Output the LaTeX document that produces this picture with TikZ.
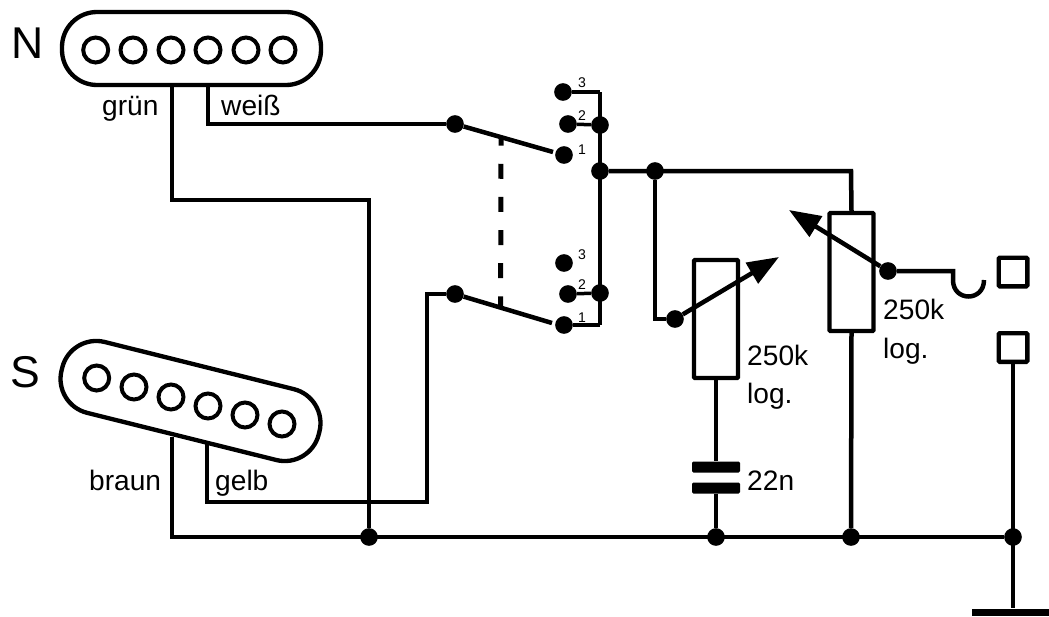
\documentclass[tikz,border=0pt]{standalone}
\usepackage{fontspec}
\setmainfont{Liberation Sans}
\usetikzlibrary{arrows.meta, calc}
\tikzset{wire/.style={line width=1.35mm, line join=miter},
  thinwire/.style={line width=1.05mm},
  junct/.style={circle, fill=black, inner sep=0, minimum size=5.3mm},
  pickup/.style={draw, line width=1.3mm, inner sep=0, minimum width=77.7mm, minimum height=21.9mm, rounded corners=10.5mm},
  pole/.style={draw, circle, line width=1.2mm, inner sep=0, minimum size=7.5mm},
  pot/.style={draw, line width=1.3mm, inner sep=0, minimum width=13.2mm, minimum height=35.4mm, rounded corners=.3mm},
  jack/.style={draw, line width=1.3mm, inner sep=0, minimum size=8.6mm, rounded corners=.3mm},
  plate/.style={fill=black, inner sep=0, minimum width=14.4mm, minimum height=3.3mm, rounded corners=.4mm},
  wiper/.style={wire, -{Triangle[length=27pt,width=20pt]}},
  lab/.style={anchor=base west, inner sep=0, font=\fontsize{24}{28}\selectfont},
  big/.style={anchor=base west, inner sep=0, font=\fontsize{38}{44}\selectfont},
  num/.style={anchor=base west, inner sep=0, font=\fontsize{12}{14}\selectfont}}

\begin{document}
\begin{tikzpicture}[x=.3mm,y=-.3mm]
\useasboundingbox (0,0) rectangle (1049,617);
% pickups
\node[pickup] (pickN) at (191.5,48.5) {};
\node[pickup,rotate=-14,minimum width=79.5mm] (pickS) at (190.5,401) {};
\foreach \i/\x in {1/95.7,2/133,3/171,4/208,5/246,6/283} \node[pole] (poleN\i) at (\x,50) {};
\foreach \i/\x/\y in {1/96.7/378,2/134/387,3/171/397,4/208/406,5/245/415,6/282/424} \node[pole] (poleS\i) at (\x,\y) {};
% switch
\node[junct] (swA) at (455,124) {};
\node[junct] (swB) at (455,294) {};
\node[junct] (a3) at (563,92) {};
\node[junct] (a2) at (568,124) {};
\node[junct] (a1) at (564,155) {};
\node[junct] (b3) at (564,263) {};
\node[junct] (b2) at (568,294) {};
\node[junct] (b1) at (564,325) {};
\node[junct] (busA) at (600,125) {};
\node[junct] (busM) at (600,171) {};
\node[junct] (busB) at (600,293) {};
\node[junct] (tone) at (655,171) {};
\coordinate (bladeA) at (553,152);
\coordinate (bladeB) at (552,323);
\coordinate (busTop) at (600,92);
\coordinate (busEnd) at (600,325);
% pots, cap, jack
\node[pot] (potT) at (716,319) {};
\node[pot] (potV) at (851.5,272) {};
\node[junct] (wipT) at (675,319) {};
\node[junct] (wipV) at (888,271) {};
\coordinate (tipT) at (779,257);
\coordinate (tipV) at (789,210);
\node[plate] (capA) at (716,467) {};
\node[plate] (capB) at (716,488) {};
\node[jack] (jackA) at (1013,272) {};
\node[jack] (jackB) at (1013,347.5) {};
\node[junct] (gndA) at (369,537) {};
\node[junct] (gndT) at (716,537) {};
\node[junct] (gndV) at (851,537) {};
\node[junct] (gndJ) at (1013,537) {};
\node[fill=black, inner sep=0, minimum width=23.1mm, minimum height=2.1mm] (gnd) at (1010.5,612) {};
\coordinate (brownTop) at (172,437);
\coordinate (yellowTop) at (207,444);
% wires
\draw[wire] (172,87)--(172,200)--(369,200)--(gndA);
\draw[wire] (208,87)--(208,124)--(swA);
\draw[wire] (swA)--(bladeA);
\draw[wire] (swB)--(bladeB);
\draw[wire] (brownTop)--(172,537)--(gndJ);
\draw[wire] (yellowTop)--(207,502)--(427,502)--(427,294)--(swB);
\draw[wire] (busTop)--(busEnd);
\draw[thinwire] (a3)--(busTop) (busEnd)--(b1);
\draw[thinwire] (a2)--(busA) (b2)--(busB);
\draw[wire] (busM)--(851,171)--(potV.north);
\draw[wire] (tone)--(655,319)--(wipT);
\draw[wire] (potT.south)--(capA) (capB)--(gndT);
\draw[wire] (potV.south)--(gndV);
\draw[wire] (jackB.south)--(gnd.north -| jackB.south);
\draw[wire] (wipV)--(953,271)--(953,280) .. controls (953,302) and (984,302) .. (984,280);
\draw[wiper] (wipT)--(tipT);
\draw[wiper] (wipV)--(tipV);
\draw[line width=1.5mm, dash pattern=on 12.8pt off 15.5pt, dash phase=5.6pt] ($(swA)!.47!(bladeA)$)--($(swB)!.47!(bladeB)$);
% labels
\node[big] (nameN) at (11,58) {N};
\node[big] (nameS) at (10,387) {S};
\node[lab] (gruen) at (102,115) {grün};
\node[lab] (weiss) at (221,115) {weiß};
\node[lab] (braun) at (89,490) {braun};
\node[lab] (gelb) at (215,490) {gelb};
\node[lab] (valT) at (747,365) {250k};
\node[lab] (logT) at (747,403) {log.};
\node[lab] (valC) at (747,490) {22n};
\node[lab] (valV) at (883,319) {250k};
\node[lab] (logV) at (883,358) {log.};
\foreach \n/\t/\y in {na3/3/87,na2/2/120,na1/1/154,nb3/3/259,nb2/2/289,nb1/1/322} \node[num] (\n) at (578,\y) {\t};
\end{tikzpicture}
\end{document}
